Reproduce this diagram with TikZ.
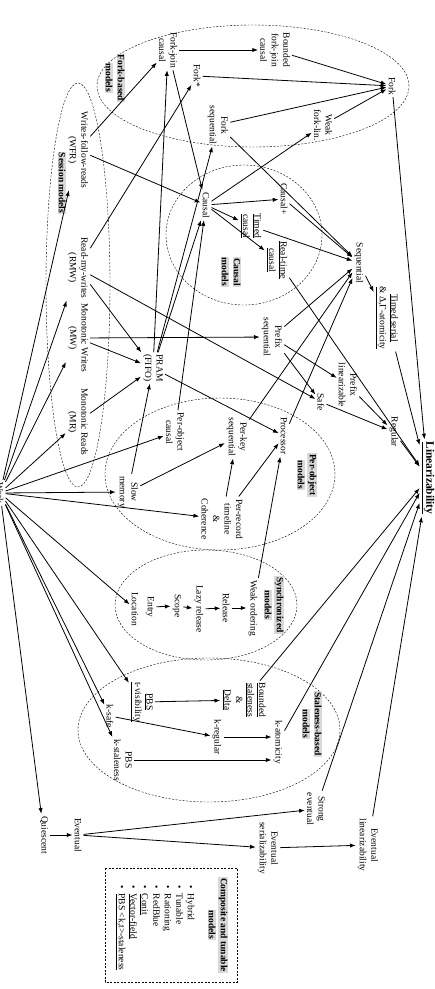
\documentclass[tikz,border=0pt]{standalone}
\usepackage{fontspec}
\setmainfont{Liberation Serif}
\usetikzlibrary{arrows.meta}

\newcommand{\glab}[1]{{\setlength{\fboxsep}{1pt}\colorbox{gray!30}{\bfseries #1}}}

\begin{document}
\begin{tikzpicture}[
  x=1pt, y=-1pt,
  model/.style={rotate=-90, align=center, inner sep=2pt, font=\fontsize{9.5}{11.5}\selectfont},
  grouplabel/.style={model, inner sep=0pt, font=\fontsize{9.5}{12}\selectfont},
  edge/.style={-{Latex[length=2mm, width=1.5mm]}, line width=0.8pt},
  group/.style={dash pattern=on 2pt off 1.5pt, thin}
]
\useasboundingbox (0,0) rectangle (435,989);

% groups
\draw[group] (253,86) ellipse [x radius=156pt, y radius=61pt];
\draw[group] (78,285) ellipse [x radius=32pt, y radius=202pt];
\draw[group] (244,235) ellipse [x radius=78pt, y radius=70pt];
\draw[group] (220,474) ellipse [x radius=115pt, y radius=76pt];
\draw[group] (206,605) ellipse [x radius=91pt, y radius=55pt];
\draw[group] (209,730) ellipse [x radius=131pt, y radius=72pt];
\draw[group] (105,868) rectangle (237,982);

\node[grouplabel] (forklab) at (115,78) {\glab{Fork-based}\\\glab{models}};
\node[grouplabel] (sesslab) at (62,183) {\glab{Session models}};
\node[grouplabel] (causlab) at (231,272) {\glab{Causal}\\\glab{models}};
\node[grouplabel] (polab) at (307,475) {\glab{Per-object}\\\glab{models}};
\node[grouplabel] (synclab) at (274,605) {\glab{Synchronized}\\\glab{models}};
\node[grouplabel] (stallab) at (312,724) {\glab{Staleness-based}\\\glab{models}};
\node[grouplabel] (complab) at (218,925) {\glab{Composite and tunable}\\\glab{models}};

% models
\node[model] (weak) at (0,493) {Weak};
\node[model] (fjc) at (168,50) {Fork-join\\causal};
\node[model] (forkstar) at (197,76) {Fork*};
\node[model] (forkseq) at (218,125) {Fork\\sequential};
\node[model] (bfjc) at (275,50) {Bounded\\fork-join\\causal};
\node[model] (fork) at (392,86) {Fork};
\node[model] (wfl) at (323,125) {Weak\\fork-lin.};
\node[model] (wfr) at (78,150) {Writes-follow-reads\\(WFR)};
\node[model] (rmw) at (78,268) {Read-my-writes\\(RMW)};
\node[model] (mw) at (78,338) {Monotonic Writes\\(MW)};
\node[model] (mr) at (78,422) {Monotonic Reads\\(MR)};
\node[model] (pram) at (153,368) {PRAM\\(FIFO)};
\node[model] (pocausal) at (175,432) {Per-object\\causal};
\node[model] (slow) at (128,492) {Slow\\memory};
\node[model] (coher) at (222,519) {Per-record\\timeline\\\&\\Coherence};
\node[model] (perkey) at (237,437) {Per-key\\sequential};
\node[model] (proc) at (284,436) {Processor};
\node[model] (causal) at (206,205) {Causal};
\node[model] (causalp) at (284,199) {Causal+};
\node[model] (timed) at (251,226) {\underline{Timed}\\\underline{causal}};
\node[model] (rtc) at (277,260) {\underline{Real-time}\\\underline{causal}};
\node[model] (seq) at (359,263) {Sequential};
\node[model] (tser) at (387,318) {\underline{Timed serial}\\\underline{\& Δ,Γ-atomicity}};
\node[model] (pseq) at (272,337) {Prefix\\sequential};
\node[model] (plin) at (348,385) {Prefix\\linearizable};
\node[model] (safe) at (321,402) {Safe};
\node[model] (regular) at (394,432) {Regular};
\node[model, font=\fontsize{11.5}{13}\selectfont\bfseries] (lin) at (428,478) {\underline{Linearizability}};
\node[model] (entry) at (150,607) {Entry};
\node[model] (loc) at (135,609) {Location};
\node[model] (scope) at (177,606) {Scope};
\node[model] (lazy) at (199,609) {Lazy release};
\node[model] (release) at (226,608) {Release};
\node[model] (wo) at (253,608) {Weak ordering};
\node[model] (pbst) at (142,702) {\underline{PBS}\\\underline{t-visibility}};
\node[model] (bstal) at (244,700) {\underline{Bounded}\\\underline{staleness}\\\&\\\underline{Delta}};
\node[model] (kreg) at (217,737) {k-regular};
\node[model] (ksafe) at (110,716) {k-safe};
\node[model] (pbsk) at (123,760) {PBS\\k-staleness};
\node[model] (katom) at (278,742) {k-atomicity};
\node[model] (quies) at (44,835) {Quiescent};
\node[model] (event) at (78,835) {Eventual};
\node[model] (strong) at (316,809) {Strong\\eventual};
\node[model] (evser) at (268,848) {Eventual\\serializability};
\node[model] (evlin) at (368,845) {Eventual\\linearizability};
\node[model, align=left] (complist) at (155,928) {%
  \textbullet\enspace Hybrid\\
  \textbullet\enspace Tunable\\
  \textbullet\enspace Rationing\\
  \textbullet\enspace RedBlue\\
  \textbullet\enspace \underline{Conit}\\
  \textbullet\enspace \underline{Vector-field}\\
  \textbullet\enspace \underline{PBS <k,t>-staleness}};

% from weak
\foreach \t in {wfr, rmw, mw, mr, pocausal, slow, coher, loc, pbst, ksafe, pbsk, quies}
  \draw[edge] (weak) -- (\t);

% session and causal
\draw[edge] (wfr) -- (fjc);
\draw[edge] (wfr) -- (causal);
\draw[edge] (rmw) -- (forkstar);
\draw[edge] (rmw) -- (pram);
\draw[edge] (rmw) -- (safe);
\draw[edge] (mw) -- (pram);
\draw[edge] (mw) -- (pseq);
\draw[edge] (mr) -- (pram);
\draw[edge] (pram) -- (fjc);
\draw[edge] (pram) -- (forkseq);
\draw[edge] (pram) -- (causal);
\draw[edge] (pram) -- (proc);
\draw[edge] (slow) -- (pram);
\draw[edge] (slow) -- (perkey);
\draw[edge] (pocausal) -- (causal);
\draw[edge] (coher) -- (perkey);
\draw[edge] (coher) -- (proc);
\draw[edge] (wo) -- (proc);
\draw[edge] (fjc) -- (bfjc);
\draw[edge] (fjc) -- (causal);
\draw[edge] (causal) -- (wfl);
\draw[edge] (causal) -- (causalp);
\draw[edge] (causal) -- (timed);
\draw[edge] (causal) -- (rtc);

% fork
\foreach \s in {bfjc, forkstar, forkseq, wfl}
  \draw[edge] (\s) -- (fork);

% sequential and up
\draw[edge] (forkseq) -- (seq);
\draw[edge] (causalp) -- (seq);
\draw[edge] (timed) -- (seq);
\draw[edge] (pseq) -- (seq);
\draw[edge] (perkey) -- (seq);
\draw[edge] (proc) -- (seq);
\draw[edge] (seq) -- (tser);
\draw[edge] (pseq) -- (plin);
\draw[edge] (pseq) -- (safe);
\draw[edge] (plin) -- (regular);
\draw[edge] (safe) -- (regular);

% synchronized
\draw[edge] (entry) -- (scope);
\draw[edge] (scope) -- (lazy);
\draw[edge] (lazy) -- (release);
\draw[edge] (release) -- (wo);

% staleness and eventual
\draw[edge] (pbst) -- (bstal);
\draw[edge] (ksafe) -- (kreg);
\draw[edge] (pbsk.north) -- (pbsk.north -| katom.south);
\draw[edge] (kreg.north) -- (kreg.north -| katom.south);
\draw[edge] (quies) -- (event);
\draw[edge] (event) -- (strong);
\draw[edge] (event) -- (evser);
\draw[edge] (evser) -- (evlin);

% to linearizability
\foreach \s in {fork, tser, rtc, regular, bstal, katom, strong, evlin}
  \draw[edge] (\s) -- (lin);
\end{tikzpicture}
\end{document}
